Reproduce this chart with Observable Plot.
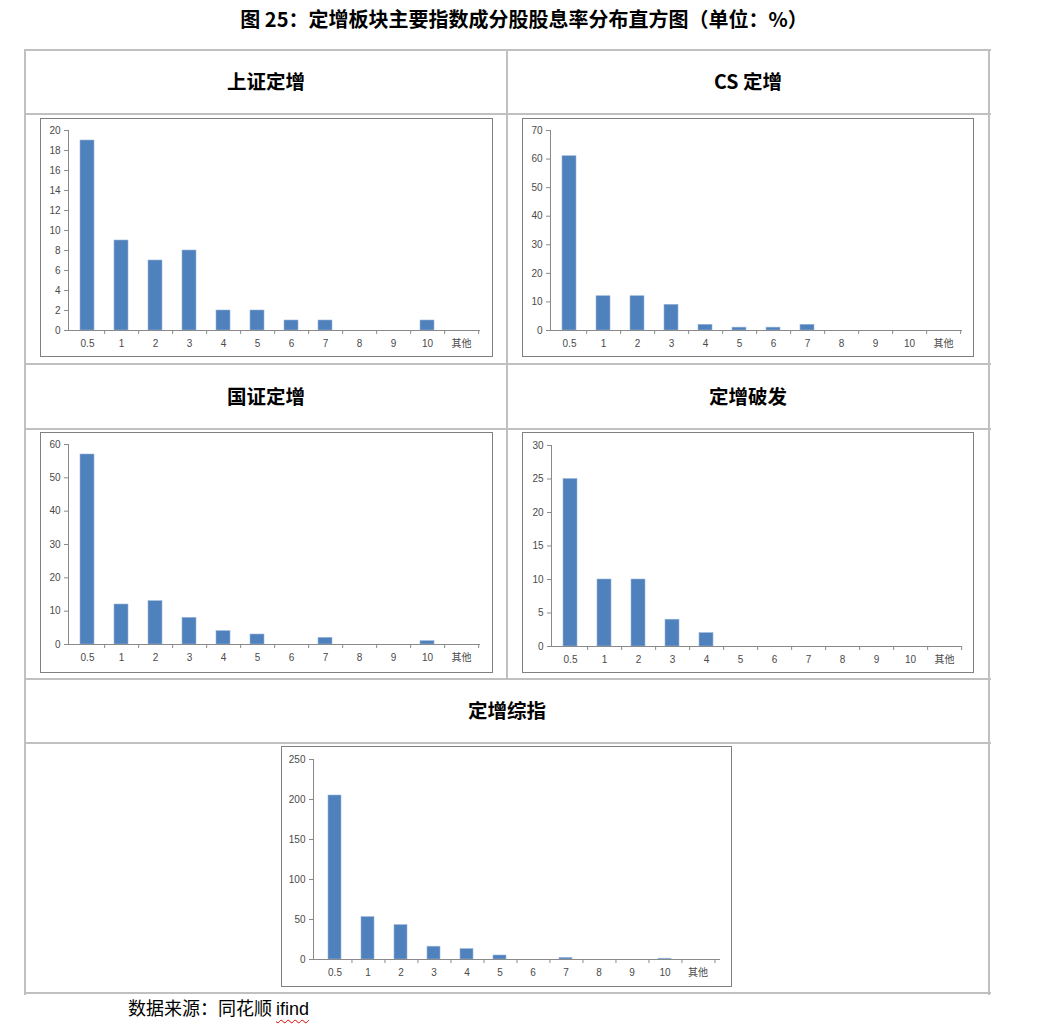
<!DOCTYPE html>
<html><head><meta charset="utf-8">
<script src="https://cdn.jsdelivr.net/npm/d3@7"></script>
<script src="https://cdn.jsdelivr.net/npm/@observablehq/plot@0.6"></script>
<style>
body{margin:0;background:#fff;}
#page{position:relative;width:1042px;height:1024px;font-family:"Noto Sans CJK SC",sans-serif;color:#000;}
.ln{position:absolute;background:#c0c0c0;}
.cell{position:absolute;display:flex;align-items:center;justify-content:center;font-weight:bold;font-size:19.5px;}
.frame{position:absolute;box-sizing:border-box;border:1px solid #808080;pointer-events:none;}
.chart{position:absolute;}
</style></head><body><div id="page"></div>
<script>
// Categories (dividend yield bins, %)
const categories = ["0.5","1","2","3","4","5","6","7","8","9","10","其他"];
// Series values (number of constituent stocks)
const shangzheng = [19, 9, 7, 8, 2, 2, 1, 1, 0, 0, 1, 0];
const csDingzeng = [61, 12, 12, 9, 2, 1, 1, 2, 0, 0, 0, 0];
const guozheng   = [57, 12, 13, 8, 4, 3, 0, 2, 0, 0, 1, 0];
const pofa       = [25, 10, 10, 4, 2, 0, 0, 0, 0, 0, 0, 0];
const zongzhi    = [205, 53, 43, 16, 13, 5, 0, 2, 0, 0, 1, 0];
// Y tick labels
const ticks1 = [0,2,4,6,8,10,12,14,16,18,20];
const ticks2 = [0,10,20,30,40,50,60,70];
const ticks3 = [0,10,20,30,40,50,60];
const ticks4 = [0,5,10,15,20,25,30];
const ticks5 = [0,50,100,150,200,250];
// Texts
const titleText = "图 25：定增板块主要指数成分股股息率分布直方图（单位：%）";
const headers = ["上证定增","CS 定增","国证定增","定增破发","定增综指"];

const page = document.getElementById("page");
function el(cls, css, html){
  const d=document.createElement("div"); d.className=cls; Object.assign(d.style,css); if(html!=null) d.innerHTML=html; page.appendChild(d); return d;
}
// Title
el("cell",{left:"0px",top:"6px",width:"1048px",height:"24px",fontSize:"20px"},titleText);
// Table lines
const hy=[50,114,364,429,679,743,993];
for(const y of hy) el("ln",{left:"24px",top:(y-1)+"px",width:"967px",height:"2px"});
el("ln",{left:"24px",top:"49px",width:"2px",height:"946px"});
el("ln",{left:"988px",top:"49px",width:"2px",height:"946px"});
el("ln",{left:"506px",top:"49px",width:"2px",height:"631px"});
// Headers
el("cell",{left:"26px",top:"49px",width:"480px",height:"63px"},headers[0]);
el("cell",{left:"508px",top:"49px",width:"480px",height:"63px"},headers[1]);
el("cell",{left:"26px",top:"363px",width:"480px",height:"64px"},headers[2]);
el("cell",{left:"508px",top:"363px",width:"480px",height:"64px"},headers[3]);
el("cell",{left:"26px",top:"678px",width:"962px",height:"63px"},headers[4]);
// Caption
el("",{position:"absolute",left:"128px",top:"996px",fontSize:"18px",lineHeight:"22px",whiteSpace:"nowrap"},
  '数据来源：同花顺 <span style="text-decoration:underline wavy #d00;text-decoration-thickness:1px;text-underline-offset:4px;font-family:\'Liberation Sans\',sans-serif">ifind</span>');

function chart(values, yticks, fr, area){
  const [L,T,W,H]=fr; const [x0,yT,x1,y0]=area;
  const data = categories.map((c,i)=>({cat:c, value:values[i]}));
  const ml=x0-L, mt=yT-T, mr=L+W-x1, mb=T+H-y0;
  const step=(x1-x0)/categories.length;
  const p = Plot.plot({
    width:W, height:H, marginLeft:ml, marginTop:mt, marginRight:mr, marginBottom:mb,
    style:{fontFamily:"'Liberation Sans','Noto Sans CJK SC',sans-serif", fontSize:"10px", background:"transparent", color:"#4a4a4a", overflow:"visible"},
    x:{type:"band", domain:categories, paddingInner:0.6, paddingOuter:0.3, axis:null},
    y:{domain:[0, yticks[yticks.length-1]], axis:null},
    marks:[
      Plot.barY(data,{x:"cat", y:"value", fill:"#4f81bd", stroke:"#9ab6da", strokeWidth:0.6}),
      Plot.ruleY([0],{stroke:"#8a8a8a"}),
      Plot.frame({anchor:"left", stroke:"#8a8a8a"}),
      Plot.axisY(yticks,{tickSize:4, tickPadding:4, stroke:"#8a8a8a", fill:"#4a4a4a", label:null}),
      Plot.axisX({tickSize:4, tickPadding:0, dx:step/2, tickFormat:()=>"", stroke:"#8a8a8a", label:null}),
      Plot.axisX({tickSize:0, tickPadding:9, fill:"#4a4a4a", label:null})
    ]
  });
  p.classList.add("chart");
  Object.assign(p.style,{left:L+"px", top:T+"px"});
  page.appendChild(p);
  el("frame",{left:L+"px",top:T+"px",width:W+"px",height:H+"px"});
}
chart(shangzheng, ticks1, [40,118,453,239], [68,130,480,330]);
chart(csDingzeng, ticks2, [522,118,452,239], [550,130,962,330]);
chart(guozheng,   ticks3, [40,432,453,241], [68,444,480,644]);
chart(pofa,       ticks4, [522,432,452,241], [551,445,962,646]);
chart(zongzhi,    ticks5, [281,746,451,241], [313,759,720,959]);
</script></body></html>
